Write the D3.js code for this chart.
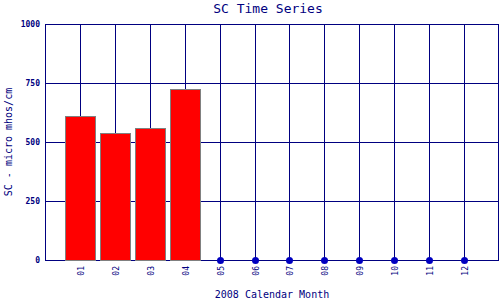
<!DOCTYPE html>
<html>
<head>
<meta charset="utf-8">
<script src="https://cdn.jsdelivr.net/npm/d3@7"></script>
<style>
  body { margin: 0; background: #fff; }
  text { font-family: "DejaVu Sans Mono", monospace; fill: #000080; }
</style>
</head>
<body>
<div class="chart"></div>
<script>
// months on the x axis
const months = ["01", "02", "03", "04", "05", "06", "07", "08", "09", "10", "11", "12"];
// monthly SC values (months with no data sit at 0 as dots)
const scValues = [609, 537, 558, 723, 0, 0, 0, 0, 0, 0, 0, 0];
const hasBar = [true, true, true, true, false, false, false, false, false, false, false, false];
const yTicks = [0, 250, 500, 750, 1000];

const margin = { top: 24, right: 1, bottom: 40, left: 45 };
const width = 500 - margin.left - margin.right,
  height = 300 - margin.top - margin.bottom;

const svg = d3.select(".chart").append("svg")
  .attr("width", 500)
  .attr("height", 300);

const g = svg.append("g")
  .attr("transform", "translate(" + margin.left + "," + margin.top + ")");

const x = d3.scalePoint()
  .domain(months)
  .range([0, width])
  .padding(1);

const y = d3.scaleLinear()
  .domain([0, 1000])
  .range([height, 0]);

const navy = "#000080";

// grid
g.selectAll(".hgrid")
  .data(yTicks).join("line")
  .attr("x1", 0).attr("x2", width)
  .attr("y1", d => Math.round(y(d)) + 0.5).attr("y2", d => Math.round(y(d)) + 0.5)
  .attr("stroke", navy).attr("stroke-width", 1);

g.selectAll(".vgrid")
  .data(months).join("line")
  .attr("x1", d => Math.round(x(d)) + 0.5).attr("x2", d => Math.round(x(d)) + 0.5)
  .attr("y1", 0).attr("y2", height)
  .attr("stroke", navy).attr("stroke-width", 1);

// frame
g.append("rect")
  .attr("x", 0.5).attr("y", 0.5)
  .attr("width", width - 1).attr("height", height)
  .attr("fill", "none").attr("stroke", navy);

// bars
const data = months.map((m, i) => ({ month: m, value: scValues[i], bar: hasBar[i] }));
const barW = 30;

g.selectAll(".bar")
  .data(data.filter(d => d.bar)).join("rect")
  .attr("class", "bar")
  .attr("x", d => Math.round(x(d.month)) - barW / 2 + 0.5)
  .attr("y", d => Math.round(y(d.value)) + 0.5)
  .attr("width", barW)
  .attr("height", d => Math.round(height - y(d.value)))
  .attr("fill", "#ff0000")
  .attr("stroke", "#808080")
  .attr("stroke-width", 1);

// dots for empty months
g.selectAll(".dot")
  .data(data.filter(d => !d.bar)).join("circle")
  .attr("cx", d => Math.round(x(d.month)) + 0.5)
  .attr("cy", d => y(d.value) + 0.5)
  .attr("r", 3.5)
  .attr("fill", "#0000c0");

// y tick labels
g.selectAll(".ylab")
  .data(yTicks).join("text")
  .attr("x", -5)
  .attr("y", d => y(d))
  .attr("dy", "0.35em")
  .attr("text-anchor", "end")
  .attr("font-size", 8)
  .attr("font-weight", "bold")
  .text(d => d);

// x tick labels (rotated)
g.selectAll(".xlab")
  .data(months).join("text")
  .attr("transform", d => "translate(" + (Math.round(x(d)) + 1) + "," + (height + 6) + ") rotate(-90)")
  .attr("text-anchor", "end")
  .attr("dy", "0.35em")
  .attr("font-size", 8)
  .text(d => d);

// titles
svg.append("text")
  .attr("x", 268).attr("y", 13)
  .attr("text-anchor", "middle")
  .attr("font-size", 13)
  .text("SC Time Series");

svg.append("text")
  .attr("x", 272).attr("y", 298)
  .attr("text-anchor", "middle")
  .attr("font-size", 10)
  .text("2008 Calendar Month");

svg.append("text")
  .attr("transform", "translate(12,142) rotate(-90)")
  .attr("text-anchor", "middle")
  .attr("font-size", 10)
  .text("SC - micro mhos/cm");
</script>
</body>
</html>
